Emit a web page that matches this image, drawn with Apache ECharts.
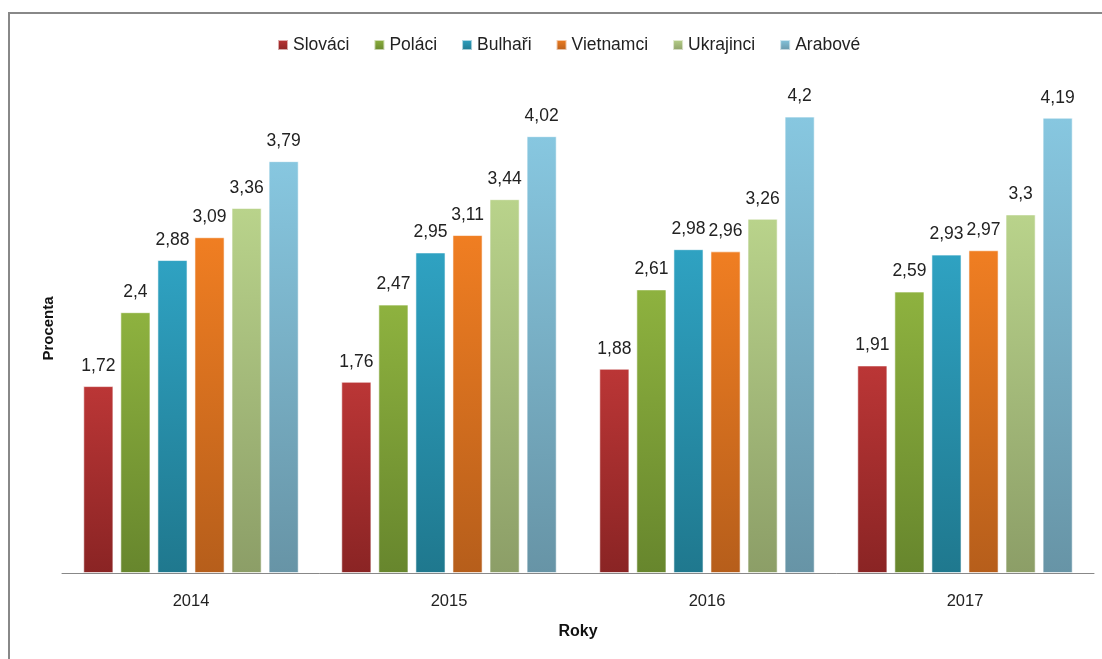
<!DOCTYPE html>
<html>
<head>
<meta charset="utf-8">
<style>
  html, body { margin: 0; padding: 0; background: #fff; }
  #frame { position: absolute; left: 8px; top: 12px; width: 1200px; height: 800px; border-left: 2px solid #888; border-top: 2px solid #888; box-sizing: border-box; }
  #chart { position: absolute; left: 0; top: 0; width: 1102px; height: 659px; }
</style>
<script src="https://cdn.jsdelivr.net/npm/echarts@6/dist/echarts.min.js"></script>
</head>
<body>
<div id="frame"></div>
<div id="chart"></div>
<script>
// Years on the category axis
const years = ['2014', '2015', '2016', '2017'];

// Share (in percent) per group and year
const slovaci   = [1.72, 1.76, 1.88, 1.91];
const polaci    = [2.4, 2.47, 2.61, 2.59];
const bulhari   = [2.88, 2.95, 2.98, 2.93];
const vietnamci = [3.09, 3.11, 2.96, 2.97];
const ukrajinci = [3.36, 3.44, 3.26, 3.3];
const arabove   = [3.79, 4.02, 4.2, 4.19];

const groups = [
  { name: 'Slováci',   data: slovaci,   top: '#bb3636', bottom: '#8a2424' },
  { name: 'Poláci',    data: polaci,    top: '#8eb23f', bottom: '#67862d' },
  { name: 'Bulhaři',   data: bulhari,   top: '#2fa2c2', bottom: '#1f788e' },
  { name: 'Vietnamci', data: vietnamci, top: '#f07e22', bottom: '#b65e1b' },
  { name: 'Ukrajinci', data: ukrajinci, top: '#b9d38b', bottom: '#8c9e67' },
  { name: 'Arabové',   data: arabove,   top: '#87c7e0', bottom: '#6794a6' }
];

const font = "'Liberation Sans', 'DejaVu Sans', sans-serif";

const chart = echarts.init(document.getElementById('chart'), null, { renderer: 'canvas' });

chart.setOption({
  backgroundColor: 'transparent',
  animation: false,
  legend: {
    top: 31,
    left: 272,
    itemWidth: 10,
    itemHeight: 10,
    itemGap: 24,
    icon: 'rect',
    textStyle: { fontFamily: font, fontSize: 17.5, color: '#222' },
    data: groups.map(g => g.name)
  },
  grid: { left: 62, right: 8, top: 84, bottom: 86 },
  xAxis: {
    type: 'category',
    data: years,
    name: 'Roky',
    nameLocation: 'middle',
    nameGap: 51,
    nameTextStyle: { fontFamily: font, fontSize: 16, fontWeight: 'bold', color: '#111' },
    axisLine: { lineStyle: { color: '#888', width: 1 } },
    axisTick: { show: false },
    axisLabel: { fontFamily: font, fontSize: 16.5, color: '#222', margin: 20 }
  },
  yAxis: {
    type: 'value',
    min: 0,
    max: 4.5,
    interval: 0.5,
    name: 'Procenta',
    nameLocation: 'middle',
    nameGap: 6,
    nameRotate: 90,
    nameTextStyle: { fontFamily: font, fontSize: 15, fontWeight: 'bold', color: '#111' },
    axisLine: { show: false },
    axisTick: { show: false },
    axisLabel: { show: false },
    splitLine: { show: false }
  },
  series: groups.map(g => ({
    name: g.name,
    type: 'bar',
    data: g.data,
    barGap: '23%',
    barCategoryGap: '16.5%',
    itemStyle: {
      color: new echarts.graphic.LinearGradient(0, 0, 0, 1, [
        { offset: 0, color: g.top },
        { offset: 1, color: g.bottom }
      ]),
      borderColor: 'rgba(255,255,255,0.6)',
      borderWidth: 1
    },
    label: {
      show: true,
      position: 'top',
      distance: 11,
      fontFamily: font,
      fontSize: 17.5,
      color: '#222',
      formatter: p => String(p.value).replace('.', ',')
    }
  }))
});
</script>
</body>
</html>
